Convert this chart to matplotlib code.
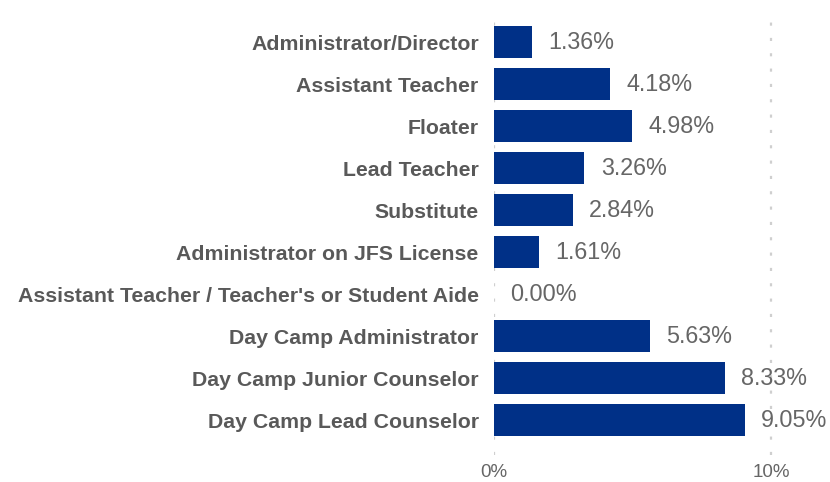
import matplotlib.pyplot as plt
from matplotlib.ticker import FuncFormatter

plt.rcParams['font.family'] = ['Liberation Sans', 'DejaVu Sans']

# Data
categories = [
    "Administrator/Director",
    "Assistant Teacher",
    "Floater",
    "Lead Teacher",
    "Substitute",
    "Administrator on JFS License",
    "Assistant Teacher / Teacher's or Student Aide",
    "Day Camp Administrator",
    "Day Camp Junior Counselor",
    "Day Camp Lead Counselor",
]
values = [1.36, 4.18, 4.98, 3.26, 2.84, 1.61, 0.00, 5.63, 8.33, 9.05]
xticks = [0, 10]

fig = plt.figure(figsize=(8.3, 4.82), dpi=100)
ax = fig.add_axes([494 / 830, 27 / 482, 336 / 830, 441 / 482])

y = list(range(len(categories)))
ax.barh(y, values, height=0.76, color="#003087", zorder=3)

for yi, v in zip(y, values):
    ax.text(v + 0.6, yi, f"{v:.2f}%", va="center", ha="left",
            fontsize=16.8, color="#666666")

ax.set_yticks(y)
ax.set_yticklabels(categories, fontsize=15.3, fontweight="bold", color="#595959")
ax.set_ylim(len(categories) - 1 + 0.83, -0.67)
ax.set_xlim(0, 12.13)
ax.set_xticks(xticks)
ax.xaxis.set_major_formatter(FuncFormatter(lambda v, p: f"{v:.0f}%"))
ax.tick_params(axis="x", labelsize=13.5, colors="#666666", length=0, pad=6.5)
ax.tick_params(axis="y", length=0, pad=11)

ax.grid(axis="x", color="#cfcfcf", linestyle=(0, (1.4, 5.5)), linewidth=1.6, zorder=0)
for s in ax.spines.values():
    s.set_visible(False)

fig.savefig("out.png", dpi=100)
